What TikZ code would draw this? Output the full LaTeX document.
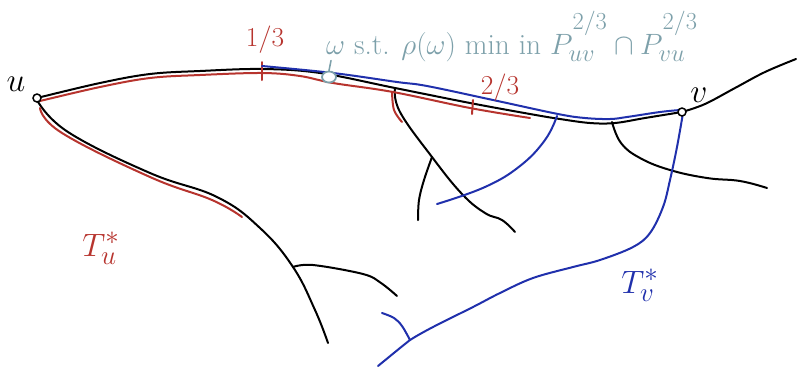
\documentclass[tikz,border=0pt]{standalone}
\usetikzlibrary{shapes.geometric}
\definecolor{pred}{RGB}{183,52,46}
\definecolor{pblue}{RGB}{32,48,172}
\definecolor{pteal}{RGB}{125,160,170}
\newcommand{\hisup}[1]{\raisebox{1.1ex}{$\scriptstyle #1$}}
\tikzset{
  blk/.style={line width=2pt,black,line cap=round,line join=round},
  redl/.style={line width=2pt,pred,line cap=round,line join=round},
  bluel/.style={line width=2pt,pblue,line cap=round,line join=round},
  vtx/.style={circle,draw=black,fill=white,line width=1.5pt,inner sep=0pt,minimum size=8pt},
  wvtx/.style={ellipse,draw=pteal,fill=white,line width=1.8pt,inner sep=0pt,minimum width=14pt,minimum height=11pt},
  lbl/.style={inner sep=0pt,font=\Huge}
}
\begin{document}
\begin{tikzpicture}[x=1pt,y=-1pt]
\useasboundingbox (0,0) rectangle (797,368);
% named points
\coordinate (pu) at (37,98);
\coordinate (pv) at (682,112);
\coordinate (b1) at (395,88);
\coordinate (b2) at (612,122);
\coordinate (b3) at (557,116);
\coordinate (b4) at (293,267);
\coordinate (b5) at (432,157);
\coordinate (b6) at (410,340);
% black tree
\draw[blk] plot[smooth,tension=0.6] coordinates {(37,98) (100,83) (150,74) (200,71) (262,69) (320,73) (395,88) (470,103) (530,114) (560,119) (590,123) (615,123) (645,118) (682,112)};
\draw[blk] plot[smooth,tension=0.6] coordinates {(682,112) (705,104) (735,88) (765,72) (796,59)};
\draw[blk] plot[smooth,tension=0.7] coordinates {(37,100) (68,132) (150,173) (217,197) (260,228) (293,267) (315,310) (328,343)};
\draw[blk] plot[smooth,tension=0.6] coordinates {(b4) (313,265) (363,274) (381,283) (397,296)};
\draw[blk] plot[smooth,tension=0.7] coordinates {(b1) (400,112) (432,157) (462,194) (485,213) (502,220) (515,232)};
\draw[blk] plot[smooth,tension=0.6] coordinates {(b5) (424,180) (419,200) (418,220)};
\draw[blk] plot[smooth,tension=0.7] coordinates {(b2) (621,143) (640,158) (670,170) (707,178) (740,181) (767,188)};
% red
\draw[redl] plot[smooth,tension=0.6] coordinates {(40,101) (100,87) (150,78) (200,75) (262,73) (300,76) (333,83) (393,92) (470,108) (530,118)};
\draw[redl] plot[smooth,tension=0.7] coordinates {(40,108) (62,133) (150,177) (212,200) (242,217)};
\draw[redl] plot[smooth,tension=0.6] coordinates {(392,92) (394,110) (402,122)};
\draw[redl] (262,62) -- (262,80);
\draw[redl] (473,100) -- (472,114);
% blue
\draw[bluel] plot[smooth,tension=0.6] coordinates {(262,66) (333,73) (397,82) (427,86) (493,100) (558,114) (585,118) (610,119) (627,117) (660,112) (680,110)};
\draw[bluel] plot[smooth,tension=0.7] coordinates {(b3) (545,140) (520,166) (485,187) (437,204)};
\draw[bluel] plot[smooth,tension=0.6] coordinates {(683,113) (677,147) (670,180) (663,207) (650,233) (633,247) (600,260) (573,267) (533,278) (500,293) (473,307) (433,327) (410,340) (400,348) (378,366)};
\draw[bluel] plot[smooth,tension=0.6] coordinates {(b6) (402,326) (394,318) (382,313)};
% vertices
\node[vtx] (u) at (pu) {};
\node[vtx] (v) at (pv) {};
\node[wvtx] (w) at (329,77) {};
\draw[pteal,line width=1.6pt,line cap=round] (w.north) -- ++(2,-10) coordinate (wt);
% labels
\node[lbl,scale=1.35] (ulab) at (16,84) {$u$};
\node[lbl,scale=1.35] (vlab) at (699,95) {$v$};
\node[lbl,text=pred,scale=1.1] (l13) at (265,40) {$1/3$};
\node[lbl,text=pred,scale=1.1] (l23) at (500,88) {$2/3$};
\node[lbl,text=pred,scale=1.3] (tu) at (101,248) {$T_u^*$};
\node[lbl,text=pblue,scale=1.3] (tv) at (640,285) {$T_v^*$};
\node[lbl,text=pteal,anchor=base west,scale=1.18] (wlab) at (326,54) {$\omega$ s.t. $\rho(\omega)$ min in $P_{uv}^{\hisup{2/3}}\cap P_{vu}^{\hisup{2/3}}$};
\end{tikzpicture}
\end{document}
